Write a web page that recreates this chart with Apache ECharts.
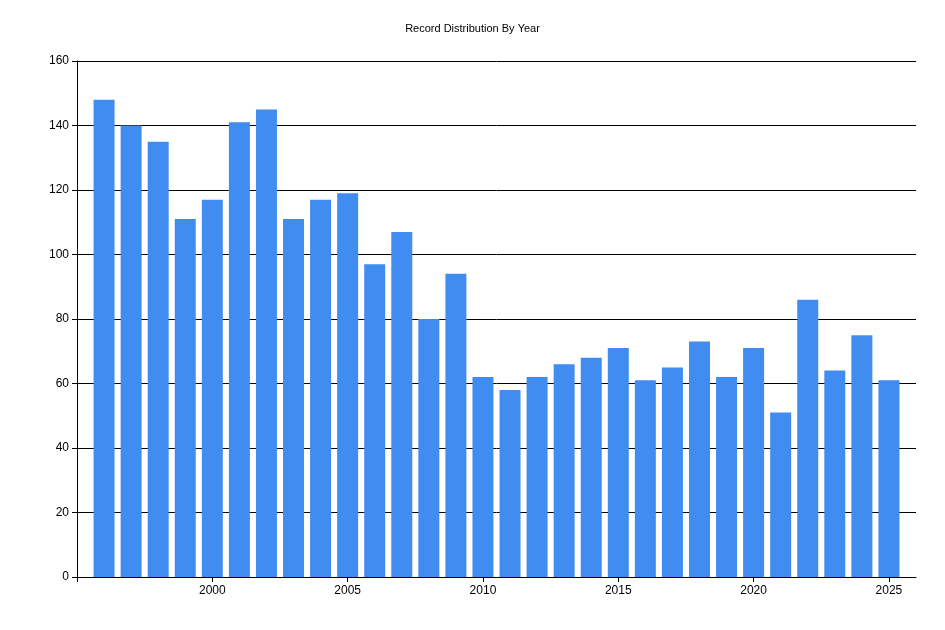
<!DOCTYPE html>
<html lang="en">
<head>
  <meta charset="utf-8">
  <title>Record Distribution By Year</title>
  <script src="https://fastly.jsdelivr.net/npm/echarts@6.0.0/dist/echarts.min.js"></script>
  <style>
    * { margin: 0; padding: 0; }
    #chart { width: 945px; height: 630px; background: #fff; }
  </style>
</head>
<body>
  <div id="chart"></div>
  <script>
    var years = [1996, 1997, 1998, 1999, 2000, 2001, 2002, 2003, 2004, 2005,
                 2006, 2007, 2008, 2009, 2010, 2011, 2012, 2013, 2014, 2015,
                 2016, 2017, 2018, 2019, 2020, 2021, 2022, 2023, 2024, 2025];
    var counts = [148, 140, 135, 111, 117, 141, 145, 111, 117, 119,
                  97, 107, 80, 94, 62, 58, 62, 66, 68, 71,
                  61, 65, 73, 62, 71, 51, 86, 64, 75, 61];

    var chart = echarts.init(document.getElementById('chart'));
    var font = 'Liberation Sans, Arial, sans-serif';

    chart.setOption({
      animation: false,
      title: {
        text: 'Record Distribution By Year',
        left: 'center',
        top: 18,
        textStyle: { fontSize: 11, fontWeight: 'normal', color: '#000', fontFamily: font }
      },
      grid: { left: 77, right: 29, top: 61, bottom: 53 },
      xAxis: {
        type: 'value',
        min: 1995,
        max: 2026,
        interval: 5,
        splitLine: { show: false },
        axisLine: { lineStyle: { color: '#000' } },
        axisTick: { show: true, length: 5, lineStyle: { color: '#000' } },
        axisLabel: {
          color: '#000', fontSize: 12, fontFamily: font, showMinLabel: true, showMaxLabel: false,
          formatter: function (v) { return (v >= 2000 && v <= 2025) ? String(v) : ''; }
        }
      },
      yAxis: {
        type: 'value',
        min: 0,
        max: 160,
        interval: 20,
        axisLine: { show: true, lineStyle: { color: '#000' } },
        axisTick: { show: true, length: 5, lineStyle: { color: '#000' } },
        splitLine: { lineStyle: { color: '#000', width: 1 } },
        axisLabel: { color: '#000', fontSize: 12, fontFamily: font }
      },
      series: [{
        type: 'bar',
        barWidth: 21,
        itemStyle: { color: '#418cf0' },
        data: years.map(function (y, i) { return [y, counts[i]]; })
      }]
    });
  </script>
</body>
</html>
